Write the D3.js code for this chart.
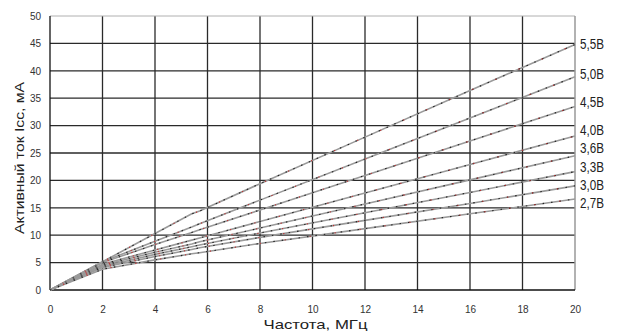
<!DOCTYPE html>
<html><head><meta charset="utf-8">
<script src="https://cdn.jsdelivr.net/npm/d3@7"></script>
<style>body{margin:0;background:#fff}svg{display:block}text{font-family:"Liberation Sans",Arial,sans-serif}</style>
</head><body><svg id="c" width="620" height="331"></svg>
<script>
const freq = [0, 2, 4, 5.4, 5.7, 8, 12, 16, 20];
const seriesNames = ["5,5В","5,0В","4,5В","4,0В","3,6В","3,3В","3,0В","2,7В"];
const v55 = [0, 5.15, 10.3, 13.9, 14.4, 19.4, 27.9, 36.4, 44.8];
const v50 = [0, 5.15, 8.9, 11.5, 12.1, 16.4, 23.9, 31.4, 38.9];
const v45 = [0, 5.0, 8.3, 10.5, 11.0, 14.6, 20.9, 27.2, 33.5];
const v40 = [0, 4.7, 7.3, 9.1, 9.5, 12.5, 17.7, 22.9, 28.1];
const v36 = [0, 4.5, 6.9, 8.4, 8.8, 11.3, 15.7, 20.1, 24.5];
const v33 = [0, 4.3, 6.5, 7.9, 8.2, 10.4, 14.1, 17.8, 21.6];
const v30 = [0, 4.1, 6.1, 7.4, 7.7, 9.6, 12.7, 15.8, 19.0];
const v27 = [0, 3.8, 5.5, 6.6, 6.8, 8.5, 11.2, 13.9, 16.6];
const labelAt = [45.0, 39.5, 34.4, 29.2, 26.0, 22.6, 19.3, 16.0];
const xTicks = [0,2,4,6,8,10,12,14,16,18,20];
const yTicks = [0,5,10,15,20,25,30,35,40,45,50];
const allSeries = [v55, v50, v45, v40, v36, v33, v30, v27];

const svg = d3.select("#c");
const x = d3.scaleLinear().domain([0,20]).range([50,575]);
const y = d3.scaleLinear().domain([0,50]).range([290,16]);

// grid
const g = svg.append("g");
g.selectAll("line.h").data(yTicks.filter(t=>t>0 && t<50)).join("line")
  .attr("x1", x(0)).attr("x2", x(20)).attr("y1", d=>y(d)).attr("y2", d=>y(d))
  .attr("stroke","#2a2a2a").attr("stroke-width",1.3);
g.selectAll("line.v").data(xTicks.filter(t=>t>0 && t<20)).join("line")
  .attr("y1", y(0)).attr("y2", y(50)).attr("x1", d=>x(d)).attr("x2", d=>x(d))
  .attr("stroke","#2a2a2a").attr("stroke-width",1.3);
// frame
svg.append("line").attr("x1",x(0)).attr("x2",x(20)).attr("y1",y(50)).attr("y2",y(50)).attr("stroke","#b0b0b0").attr("stroke-width",1);
svg.append("line").attr("x1",x(20)).attr("x2",x(20)).attr("y1",y(0)).attr("y2",y(50)).attr("stroke","#999").attr("stroke-width",1.5);
svg.append("line").attr("x1",x(0)).attr("x2",x(0)).attr("y1",y(0)).attr("y2",y(50)).attr("stroke","#111").attr("stroke-width",1.3);
svg.append("line").attr("x1",x(0)).attr("x2",x(20)).attr("y1",y(0)).attr("y2",y(0)).attr("stroke","#111").attr("stroke-width",1.3);

// axes labels
const xa = svg.append("g").attr("transform",`translate(0,${y(0)})`)
  .call(d3.axisBottom(x).tickValues(xTicks).tickSize(0).tickPadding(16));
xa.select(".domain").remove();
xa.selectAll("text").attr("font-size",10).attr("fill","#333").attr("font-family","Liberation Sans, Arial");
const ya = svg.append("g").attr("transform",`translate(${x(0)},0)`)
  .call(d3.axisLeft(y).tickValues(yTicks).tickSize(0).tickPadding(9));
ya.select(".domain").remove();
ya.selectAll("text").attr("font-size",10).attr("fill","#333").attr("font-family","Liberation Sans, Arial");

// lines
const line = d3.line().x((d,i)=>x(freq[i])).y(d=>y(d));
const lg = svg.append("g");
allSeries.forEach(s=>{
  lg.append("path").attr("d",line(s)).attr("fill","none").attr("stroke","#9a9a9a").attr("stroke-width",1.6);
  lg.append("path").attr("d",line(s)).attr("fill","none").attr("stroke","#222").attr("stroke-width",1.1).attr("stroke-dasharray","1.5,7");
  lg.append("path").attr("d",line(s)).attr("fill","none").attr("stroke","#c03030").attr("stroke-width",1.1).attr("stroke-dasharray","1.2,24").attr("stroke-dashoffset",11);
});

// series labels
svg.selectAll("text.lbl").data(seriesNames).join("text")
  .attr("x", x(20)+5).attr("y", (d,i)=>y(labelAt[i])+5.5)
  .attr("font-size",15).attr("fill","#222")
  .attr("textLength",24).attr("lengthAdjust","spacingAndGlyphs")
  .text(d=>d);

// titles
svg.append("text").attr("x",(x(0)+x(20))/2+3).attr("y",329).attr("text-anchor","middle")
  .attr("font-size",13).attr("fill","#222").attr("textLength",104).attr("lengthAdjust","spacingAndGlyphs")
  .text("Частота, МГц");
svg.append("text").attr("transform",`translate(24,158) rotate(-90)`).attr("text-anchor","middle")
  .attr("font-size",13).attr("fill","#222").attr("textLength",152).attr("lengthAdjust","spacingAndGlyphs")
  .text("Активный ток Icc, мА");
</script></body></html>
